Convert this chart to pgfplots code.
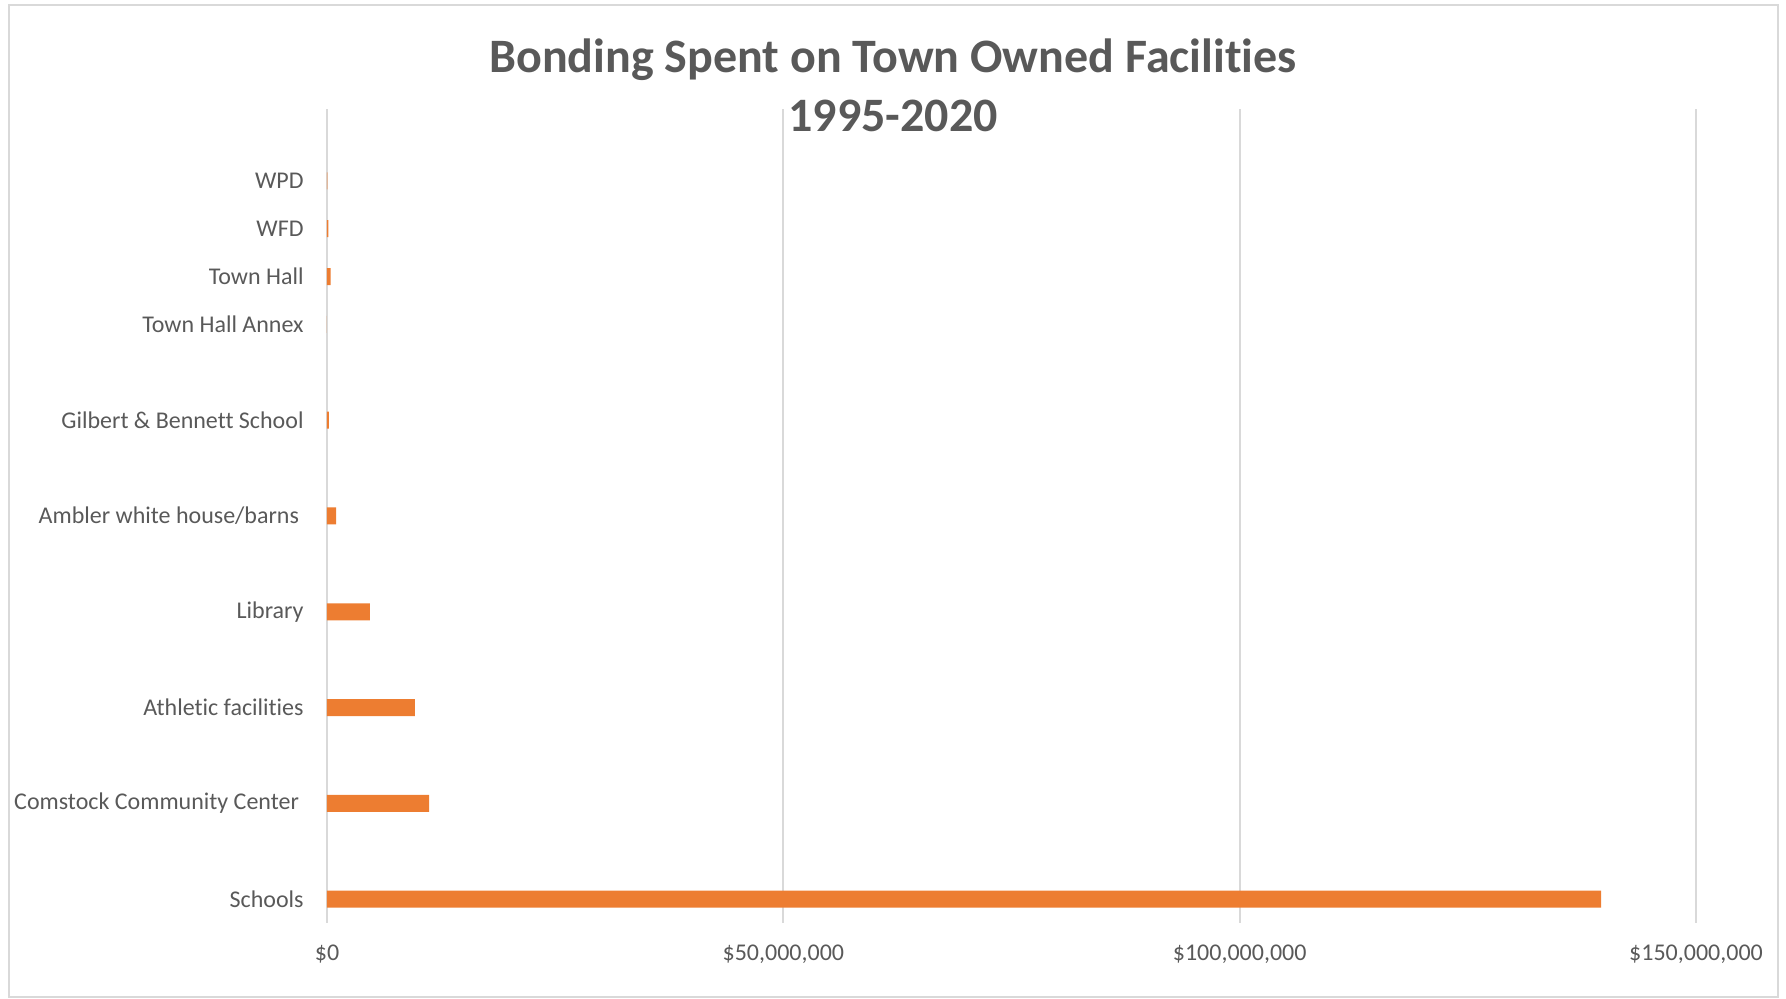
\documentclass[border=0pt]{standalone}
\usepackage{fontspec}
\setmainfont{Carlito}[Ligatures=NoCommon]
\usepackage{pgfplots}
\pgfplotsset{compat=1.18}
\definecolor{barorange}{HTML}{ED7D31}
\definecolor{gridgray}{HTML}{D9D9D9}
\definecolor{txtgray}{HTML}{595959}
\begin{document}
\begin{tikzpicture}
\begin{axis}[
    at={(0,0)}, anchor=south west,
    scale only axis, width=684.5pt, height=407pt,
    xbar, bar width=8.5pt,
    xmin=0, xmax=150000000, ymin=-0.25, ymax=8.25,
    xtick={0,50000000,100000000,150000000},
    xticklabels={\$0,{\$50,000,000},{\$100,000,000},{\$150,000,000}},
    scaled x ticks=false,
    ytick={0,1,2,3,4,5,6,6.5,7,7.5},
    yticklabels={Schools,Comstock Community Center\kern2.3pt,Athletic facilities,Library,Ambler white house/barns\kern2.3pt,Gilbert \& Bennett School,Town Hall Annex,Town Hall,WFD,WPD},
    xmajorgrids, grid style={gridgray, line width=1pt},
    axis line style={draw=none},
    major tick length=0pt,
    tick label style={font=\fontsize{12}{14}\selectfont, text=txtgray},
    yticklabel style={anchor=east, inner sep=0pt, xshift=-11.5pt},
    xticklabel style={anchor=base, inner sep=0pt, yshift=-18.8pt},
]
% values, in dollars
\addplot[fill=barorange, draw=none] coordinates {
    (139600000,0) (11200000,1) (9640000,2) (4700000,3) (1000000,4)
    (200000,5) (0,6) (400000,6.5) (150000,7) (50000,7.5)
};
\end{axis}
\node[font=\fontsize{24}{29.5}\selectfont\bfseries, text=txtgray, align=center]
    at (283pt,419pt) {Bonding Spent on Town Owned Facilities\\1995-2020};
\draw[gridgray, line width=1pt] (-159pt,-37pt) rectangle (725.5pt,459pt);
\pgfresetboundingbox
\path[use as bounding box] (-163.5pt,-38pt) rectangle (729.5pt,461.5pt);
\end{tikzpicture}
\end{document}
